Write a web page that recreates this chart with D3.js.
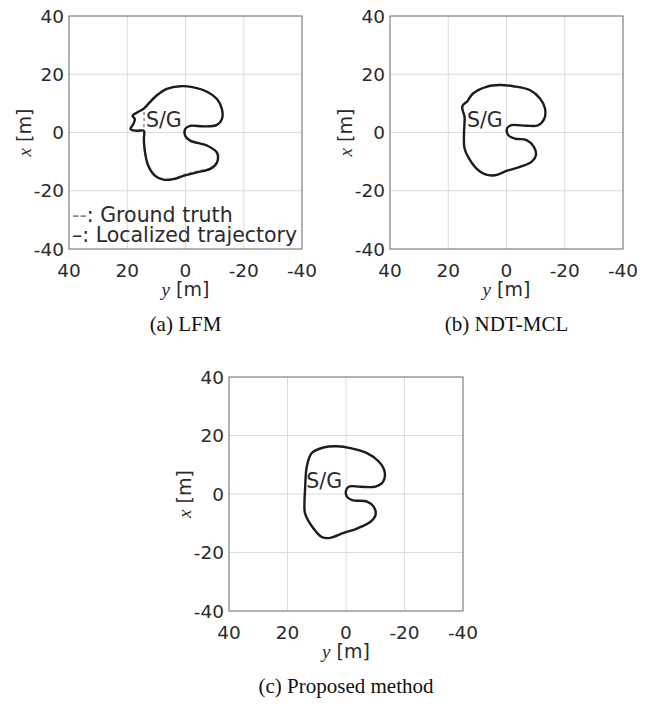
<!DOCTYPE html>
<html>
<head>
<meta charset="utf-8">
<script src="https://cdn.jsdelivr.net/npm/d3@7"></script>
<style>
  body { margin: 0; background: #fff; }
  text { fill: #2b2b2b; }
</style>
</head>
<body>
<div id="chart"></div>
<script>
// axis ticks (same on both axes, y axis runs from 40 on the left to -40 on the right)
const ticks = [40, 20, 0, -20, -40];

// trajectories as [y, x] pairs in metres
const lfmTrajectory = [
  [13.9, 8.6], [9.9, 12.7], [6.4, 15.0], [1.8, 15.9], [-2.8, 15.5], [-7.4, 14.0],
  [-10.8, 11.5], [-12.5, 8.1], [-12.5, 4.6], [-10.8, 2.6], [-6.2, 2.1], [-1.6, 2.3],
  [0.1, 1.2], [0.1, -1.1], [-1.6, -2.8], [-7.4, -4.5], [-10.8, -6.9], [-10.8, -10.3],
  [-8.5, -12.5], [-3.9, -13.7], [0.7, -14.9], [4.1, -16.0], [7.6, -16.2], [10.5, -14.8],
  [12.8, -11.4], [13.9, -6.8], [14.3, -2.2], [14.3, 0.6], [16.8, 0.6], [18.9, 1.2],
  [17.9, 2.9], [17.4, 4.6], [18.2, 5.8], [16.6, 6.9], [14.5, 8.1]
];
const lfmGroundTruth = [
  [13.9, 8.6], [9.9, 12.7], [6.4, 15.0], [1.8, 15.9], [-2.8, 15.5], [-7.4, 14.0],
  [-10.8, 11.5], [-12.5, 8.1], [-12.5, 4.6], [-10.8, 2.6], [-6.2, 2.1], [-1.6, 2.3],
  [0.1, 1.2], [0.1, -1.1], [-1.6, -2.8], [-7.4, -4.5], [-10.8, -6.9], [-10.8, -10.3],
  [-8.8, -12.2], [-4.4, -13.2], [0.4, -14.4], [4.1, -15.8], [7.6, -16.1], [10.5, -14.8],
  [12.8, -11.4], [13.9, -6.8], [14.3, -2.2], [14.3, 0.6], [14.2, 4.5]
];
const ndtTrajectory = [
  [13.6, 10.5], [11.5, 13.4], [6.9, 15.7], [2.3, 16.3], [-2.3, 15.9], [-8.0, 14.6],
  [-11.5, 11.7], [-13.2, 8.3], [-13.0, 4.8], [-10.9, 2.5], [-6.9, 2.3], [-1.7, 2.5],
  [-0.2, 1.4], [-0.6, -0.9], [-2.9, -2.1], [-6.9, -2.6], [-9.4, -4.9], [-10.1, -7.8],
  [-8.6, -10.1], [-4.6, -11.8], [0.0, -13.2], [4.0, -14.7], [7.5, -14.3], [10.3, -12.4],
  [12.9, -8.9], [14.4, -5.5], [14.6, -0.3], [14.4, 5.4], [14.9, 7.1], [15.2, 8.8],
  [14.4, 10.0]
];
const proposedTrajectory = [
  [13.4, 9.4], [11.7, 14.0], [7.7, 15.9], [3.1, 16.3], [-1.5, 15.7], [-7.2, 14.0],
  [-11.2, 11.1], [-13.2, 7.7], [-12.7, 4.2], [-10.1, 2.5], [-4.9, 2.5], [-0.9, 2.5],
  [0.0, 1.1], [-0.3, -0.9], [-2.1, -2.1], [-7.2, -2.6], [-9.5, -4.4], [-10.1, -7.2],
  [-8.4, -9.5], [-3.8, -11.8], [0.8, -13.3], [5.4, -15.0], [8.3, -14.7], [11.1, -11.8],
  [14.0, -6.6], [14.2, -3.2], [14.0, 1.4]
];
const startGoal = [13.6, 2.0];

const width = 659, height = 704;
const svg = d3.select("#chart").append("svg")
  .attr("width", width)
  .attr("height", height);

const sans = "'DejaVu Sans', sans-serif";
const serif = "'Liberation Serif', serif";

function drawPanel(left, top, size, trajectory, groundTruth, caption, showLegend) {
  const yScale = d3.scaleLinear().domain([40, -40]).range([left, left + size]);
  const xScale = d3.scaleLinear().domain([40, -40]).range([top, top + size]);
  const g = svg.append("g");

  // grid
  g.selectAll(".vgrid")
    .data(ticks.slice(1, -1))
    .join("line")
    .attr("x1", d => yScale(d)).attr("x2", d => yScale(d))
    .attr("y1", top).attr("y2", top + size)
    .attr("stroke", "#dcdcdc").attr("stroke-width", 1);
  g.selectAll(".hgrid")
    .data(ticks.slice(1, -1))
    .join("line")
    .attr("y1", d => xScale(d)).attr("y2", d => xScale(d))
    .attr("x1", left).attr("x2", left + size)
    .attr("stroke", "#dcdcdc").attr("stroke-width", 1);

  g.append("rect")
    .attr("x", left).attr("y", top)
    .attr("width", size).attr("height", size)
    .attr("fill", "none").attr("stroke", "#666").attr("stroke-width", 1);

  // tick labels
  g.selectAll(".xtick")
    .data(ticks)
    .join("text")
    .attr("x", d => yScale(d))
    .attr("y", top + size + 28)
    .attr("text-anchor", "middle")
    .style("font-family", sans).style("font-size", "18.5px")
    .text(d => d);
  g.selectAll(".ytick")
    .data(ticks)
    .join("text")
    .attr("x", left - 5)
    .attr("y", d => xScale(d))
    .attr("dy", "0.36em")
    .attr("text-anchor", "end")
    .style("font-family", sans).style("font-size", "18.5px")
    .text(d => d);

  // axis labels
  const yl = g.append("text")
    .attr("x", left + size / 2)
    .attr("y", top + size + 47)
    .attr("text-anchor", "middle")
    .style("font-size", "19px");
  yl.append("tspan").style("font-family", serif).style("font-style", "italic").text("y");
  yl.append("tspan").style("font-family", sans).text(" [m]");

  const xl = g.append("text")
    .attr("transform", `translate(${left - 38},${top + size / 2}) rotate(-90)`)
    .attr("text-anchor", "middle")
    .style("font-size", "19px");
  xl.append("tspan").style("font-family", serif).style("font-style", "italic").text("x");
  xl.append("tspan").style("font-family", sans).text(" [m]");

  const line = d3.line()
    .x(d => yScale(d[0]))
    .y(d => xScale(d[1]))
    .curve(d3.curveCatmullRomClosed.alpha(0.5));

  if (groundTruth) {
    g.append("path")
      .attr("d", line(groundTruth))
      .attr("fill", "none")
      .attr("stroke", "#8a8a8a")
      .attr("stroke-width", 1.5)
      .attr("stroke-dasharray", "3,3");
  }

  g.append("path")
    .attr("d", line(trajectory))
    .attr("fill", "none")
    .attr("stroke", "#1c1c1c")
    .attr("stroke-width", 2.4)
    .attr("stroke-linejoin", "round");

  g.append("text")
    .attr("x", yScale(startGoal[0]))
    .attr("y", xScale(startGoal[1]))
    .style("font-family", sans).style("font-size", "20.5px")
    .text("S/G");

  if (showLegend) {
    const l1 = g.append("text")
      .attr("x", left + 3).attr("y", top + size - 27)
      .style("font-family", sans).style("font-size", "20.5px");
    l1.append("tspan").style("fill", "#888").text("--");
    l1.append("tspan").text(": Ground truth");
    g.append("text")
      .attr("x", left + 3).attr("y", top + size - 7)
      .style("font-family", sans).style("font-size", "20.5px")
      .text("\u2013: Localized trajectory");
  }

  g.append("text")
    .attr("x", left + size / 2)
    .attr("y", top + size + 82)
    .attr("text-anchor", "middle")
    .style("font-family", serif).style("font-size", "21px")
    .style("fill", "#111")
    .text(caption);
}

drawPanel(69, 16, 233, lfmTrajectory, lfmGroundTruth, "(a) LFM", true);
drawPanel(390, 16, 233, ndtTrajectory, null, "(b) NDT-MCL", false);
drawPanel(229, 377, 234, proposedTrajectory, null, "(c) Proposed method", false);
</script>
</body>
</html>
